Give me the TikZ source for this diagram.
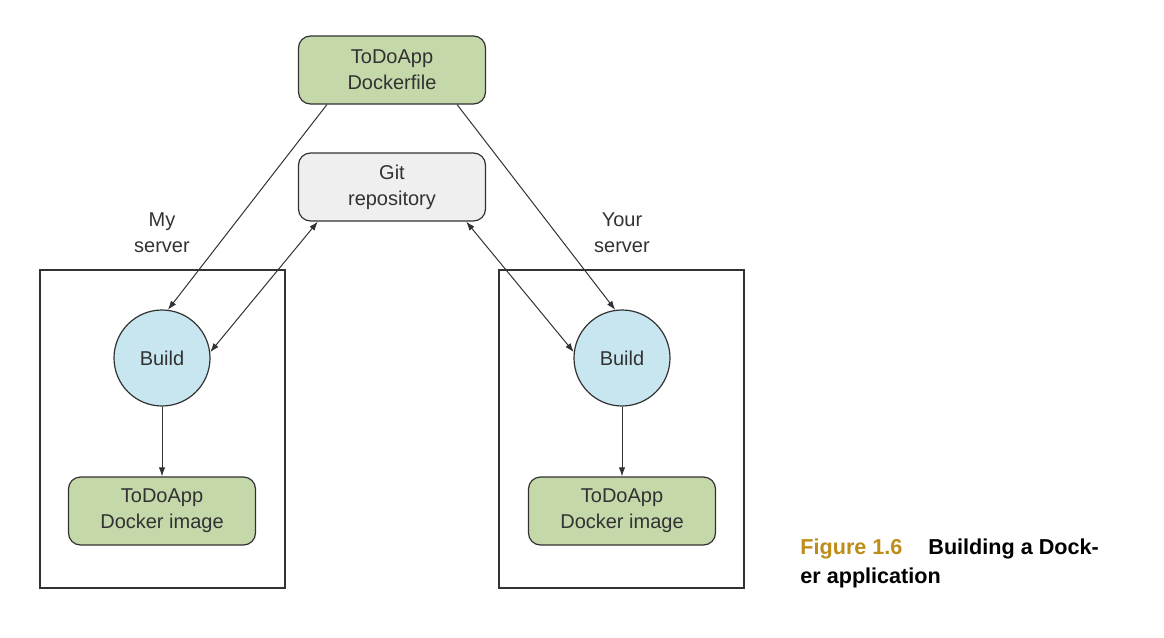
\documentclass[tikz,border=0pt]{standalone}
\usepackage{fontspec}
\setmainfont{Liberation Sans}
\usepackage{tikz}
\usetikzlibrary{arrows.meta}

\definecolor{boxgreen}{RGB}{196,216,170}
\definecolor{boxgray}{RGB}{239,239,239}
\definecolor{buildblue}{RGB}{200,230,240}
\definecolor{figgold}{RGB}{190,140,25}
\definecolor{linegray}{RGB}{50,50,50}

\begin{document}
\begin{tikzpicture}[x=0.5pt, y=-0.5pt,
	main/.style = {draw=linegray, line width=0.6pt, rounded corners=6pt, minimum width=93.5pt, minimum height=34pt, align=center, font=\fontsize{10}{13}\selectfont, text=linegray},
	build/.style = {draw=linegray, line width=0.6pt, circle, minimum size=48pt, fill=buildblue, font=\fontsize{10}{13}\selectfont, text=linegray},
	server/.style = {draw=linegray, line width=0.6pt},
	label/.style = {align=center, font=\fontsize{10}{13}\selectfont, text=linegray},
	arr/.style = {line width=0.5pt, draw=linegray, -{Latex[length=4.5pt,width=3.2pt]}},
	biarr/.style = {line width=0.5pt, draw=linegray, {Latex[length=4.5pt,width=3.2pt]}-{Latex[length=4.5pt,width=3.2pt]}}]

	\useasboundingbox (0,0) rectangle (1164,638);

	% servers
	\draw[server] (40,270) rectangle (285,588);
	\draw[server] (499,270) rectangle (744,588);
	\node[label] (L1) at (162,233) {My\\server};
	\node[label] (L2) at (622,233) {Your\\server};

	\node[main, fill=boxgreen] (D) at (392,70) {ToDoApp\\Dockerfile};
	\node[main, fill=boxgray] (G) at (392,187) {Git\\repository};

	\node[build] (B1) at (162,358) {Build};
	\node[build] (B2) at (622,358) {Build};

	\node[main, fill=boxgreen] (I1) at (162,511) {ToDoApp\\Docker image};
	\node[main, fill=boxgreen] (I2) at (622,511) {ToDoApp\\Docker image};

	\draw[arr] (D.208) -- (B1.83);
	\draw[arr] (D.332) -- (B2.98);
	\draw[biarr] (G.205) -- (B1.7);
	\draw[biarr] (G.335) -- (B2.173);
	\draw[arr] (B1) -- (I1);
	\draw[arr] (B2) -- (I2);

	% caption
	\node[anchor=base west, inner sep=0pt, font=\fontsize{10.8}{14.5}\selectfont\bfseries, align=left] (F) at (800,583)
		{\textcolor{figgold}{Figure 1.6}\hspace{13pt}Building a Dock-\\er application};

\end{tikzpicture}
\end{document}
